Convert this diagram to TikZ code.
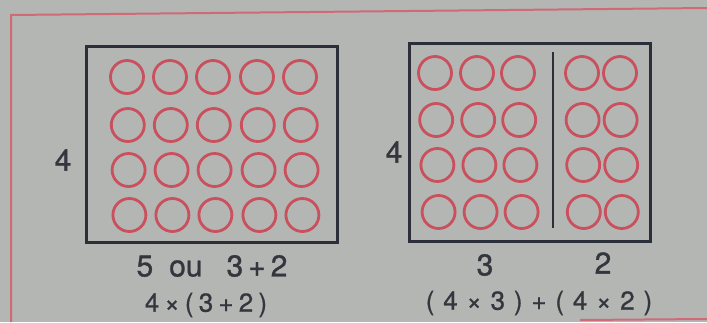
\documentclass[tikz,border=0pt]{standalone}
\usepackage{fontspec}
\setmainfont{TeX Gyre Heros}
\definecolor{bg}{HTML}{B4B6B4}
\definecolor{frame}{HTML}{CF6A76}
\definecolor{ring}{HTML}{C9505C}
\definecolor{ink}{HTML}{2B2F3A}
\definecolor{txt}{HTML}{33363D}
\tikzset{
  ring/.style={circle,draw=ring,line width=2.8pt,minimum size=33pt,inner sep=0pt},
  box/.style={draw=ink,line width=3pt},
  lab/.style={text=txt,font=\fontsize{30}{30}\selectfont\addfontfeature{FakeBold=1},inner sep=0pt},
  expr/.style={text=txt,font=\fontsize{26}{26}\selectfont\addfontfeature{FakeBold=0.8},inner sep=0pt},
}
\begin{document}
\begin{tikzpicture}[x=1pt,y=-1pt]
\fill[bg] (0,0) rectangle (707,322);
\useasboundingbox (0,0) rectangle (707,322);
% red frame
\draw[frame,line width=2pt] (11,322) -- (11,15) -- (707,8);
\draw[frame,line width=2pt] (580,320) -- (707,319);
% left box
\draw[box] (86,46) rectangle (337,242);
\foreach \r/\y in {1/77,2/125,3/170,4/215}{
  \foreach \c/\x in {1/127,2/170,3/213,4/257,5/300}{
    \node[ring] (L\r\c) at (\x+\r*0.8-0.8,\y) {};
  }
}
\node[lab] (L4) at (63,160) {4};
\node[lab] (Lb) at (212,266) {5\hspace{16pt}ou\hspace{24pt}3\,+\,2};
\node[expr] (Le) at (206,305) {\addfontfeature{LetterSpace=20}4×(3+2)};
% right box
\draw[box] (409,43) rectangle (650,241);
\coordinate (dtop) at (553,52);
\coordinate (dbot) at (553,228);
\draw[ink,line width=2.5pt] (dtop) -- (dbot);
\foreach \r/\y in {1/73,2/120,3/165,4/212}{
  \foreach \c/\x in {1/435,2/477,3/518}{
    \node[ring] (R\r\c) at (\x+\r*1.2-1.2,\y) {};
  }
  \foreach \c/\x in {4/582,5/620}{
    \node[ring] (R\r\c) at (\x+\r*0.6-0.6,\y) {};
  }
}
\node[lab] (R4) at (394,152) {4};
\node[lab] (Rb3) at (485,265) {3};
\node[lab] (Rb2) at (603,263) {2};
\node[expr] (Re) at (539,303) {\addfontfeature{LetterSpace=34}(4×3)+(4×2)};
\end{tikzpicture}
\end{document}
